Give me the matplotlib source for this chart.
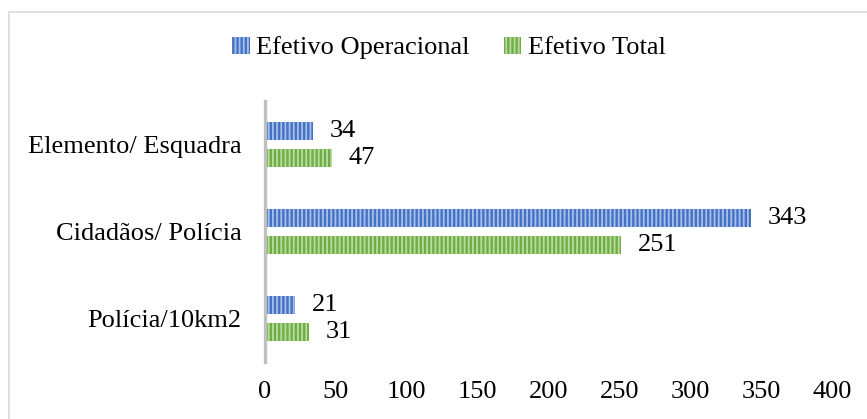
import matplotlib.pyplot as plt
from matplotlib.patches import Rectangle
import numpy as np

categories = ["Elemento/ Esquadra", "Cidadãos/ Polícia", "Polícia/10km2"]
operacional = [34, 343, 21]
total = [47, 251, 31]
series_names = ["Efetivo Operacional", "Efetivo Total"]
xticks = [0, 50, 100, 150, 200, 250, 300, 350, 400]

plt.rcParams['font.family'] = ['Liberation Serif', 'DejaVu Serif']
plt.rcParams['hatch.linewidth'] = 1.3

blue, blue_h = '#4472c4', '#a8bfe9'
green, green_h = '#70ad47', '#b9dca0'
fs = 19

fig = plt.figure(figsize=(8.67, 4.19), dpi=100)
ax = fig.add_axes([265 / 867, 1 - 362 / 419, (832 - 265) / 867, (362 - 101) / 419])

y = np.arange(len(categories))
h = 0.2
off = 0.155
b1 = ax.barh(y - off, operacional, height=h, color=blue, edgecolor=blue_h,
             linewidth=0, hatch='||||', label=series_names[0])
b2 = ax.barh(y + off, total, height=h, color=green, edgecolor=green_h,
             linewidth=0, hatch='||||', label=series_names[1])

for bars, vals in ((b1, operacional), (b2, total)):
    for bar, v in zip(bars, vals):
        ax.annotate(str(v), (v, bar.get_y() + bar.get_height() / 2),
                    xytext=(12, 0), textcoords='offset points',
                    va='center', ha='left', fontsize=fs, color='#000000')

ax.set_xlim(0, 400)
ax.set_ylim(2.5, -0.5)
ax.set_xticks(xticks)
ax.set_yticks(y)
ax.set_yticklabels(categories)
ax.tick_params(axis='both', length=0, labelsize=fs)
ax.tick_params(axis='x', pad=14)
ax.tick_params(axis='y', pad=17)
for s in ['top', 'right', 'bottom']:
    ax.spines[s].set_visible(False)
ax.spines['left'].set_color('#bfbfbf')
ax.spines['left'].set_linewidth(2.4)

fig.legend(handles=[b1, b2], labels=series_names, loc='center',
           bbox_to_anchor=(449 / 867, 1 - 48 / 419), ncol=2, frameon=False,
           fontsize=fs, handlelength=0.65, handleheight=0.6,
           handletextpad=0.25, columnspacing=1.3)

fig.patches.append(Rectangle((9 / 867, -0.1), 1.1, 1.1 - 12 / 419,
                             transform=fig.transFigure, fill=False,
                             edgecolor='#d9d9d9', linewidth=1.2, figure=fig))

fig.savefig('out.png', dpi=100)
